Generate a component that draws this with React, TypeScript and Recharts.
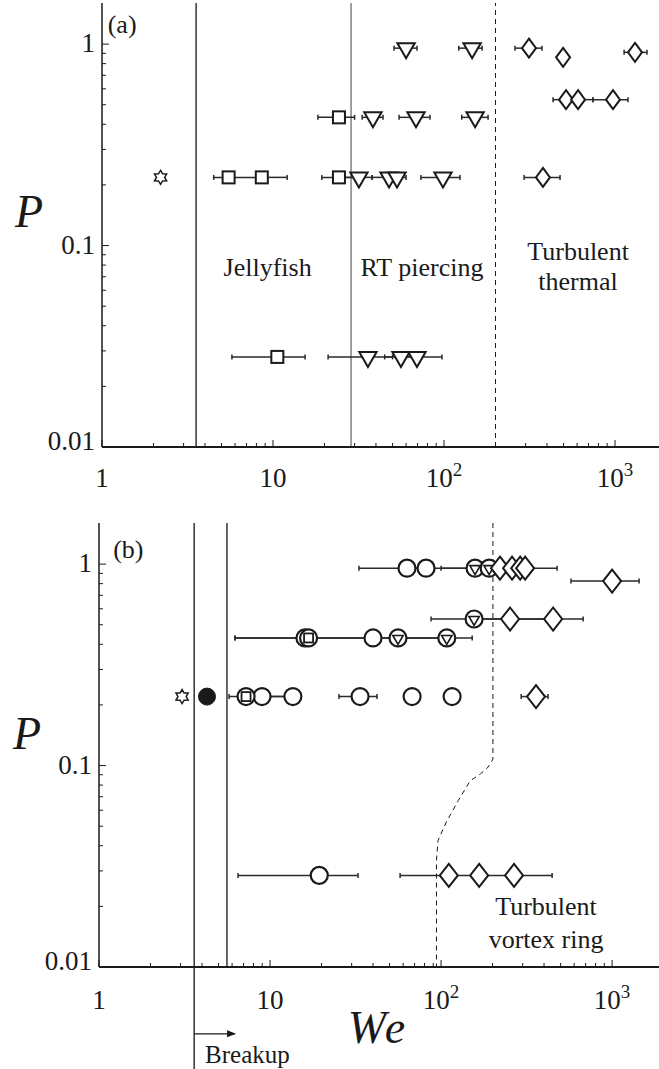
import React from 'react';
import {
  ComposedChart,
  Scatter,
  XAxis,
  YAxis,
  ErrorBar,
  ReferenceLine,
  ReferenceDot,
} from 'recharts';

type Pt = { we: number; p: number; lo?: number; hi?: number };

const FONT = '"Liberation Serif", "DejaVu Serif", serif';
const INK = '#1a1a1a';

// axis ticks (log decades with minor ticks)
const xMajor = [1, 10, 100, 1000];
const xTickLabels = [['1', ''], ['10', ''], ['10', '2'], ['10', '3']];
const yMajor = [0.01, 0.1, 1];
const yTickLabels = ['0.01', '0.1', '1'];
const mantissas = [1, 2, 3, 4, 5, 6, 7, 8, 9];
const xTicks = xMajor.flatMap((d) => mantissas.map((m) => +(m * d).toPrecision(3))).filter((v) => v <= 1000);
const yTicks = [0.01, 0.1].flatMap((d) => mantissas.map((m) => +(m * d).toPrecision(3))).concat([1]);

const yDomain = [0.01, 1.6];
const aWeMax = 1808;
const bWeMax = 1880;

// ---- panel (a) ----
const aStar: Pt[] = [{ we: 2.2, p: 0.218 }];
const aSquares: Pt[] = [
  { we: 24.3, p: 0.433, lo: 18.3, hi: 30 },
  { we: 5.5, p: 0.218, lo: 4.5, hi: 8.6 },
  { we: 8.6, p: 0.218, lo: 8.6, hi: 12.1 },
  { we: 24.3, p: 0.218, lo: 19.3, hi: 30 },
  { we: 10.6, p: 0.028, lo: 5.75, hi: 15.4 },
];
const aTriangles: Pt[] = [
  { we: 60, p: 0.955, lo: 51, hi: 69.5 },
  { we: 146, p: 0.955, lo: 122, hi: 167 },
  { we: 38.4, p: 0.433, lo: 33.2, hi: 44 },
  { we: 68.6, p: 0.433, lo: 54.6, hi: 82.8 },
  { we: 152, p: 0.433, lo: 127, hi: 181 },
  { we: 31.8, p: 0.218, lo: 26, hi: 38 },
  { we: 47.7, p: 0.218, lo: 38, hi: 55 },
  { we: 53.1, p: 0.218, lo: 47, hi: 60 },
  { we: 98.6, p: 0.218, lo: 73.3, hi: 124 },
  { we: 35.9, p: 0.028, lo: 21, hi: 50 },
  { we: 56, p: 0.028, lo: 45, hi: 70 },
  { we: 69.5, p: 0.028, lo: 56, hi: 97.3 },
];
const aDiamonds: Pt[] = [
  { we: 314, p: 0.955, lo: 260, hi: 374 },
  { we: 497, p: 0.86 },
  { we: 1309, p: 0.91, lo: 1130, hi: 1538 },
  { we: 517, p: 0.53, lo: 434, hi: 600 },
  { we: 608, p: 0.53, lo: 517, hi: 743 },
  { we: 973, p: 0.53, lo: 743, hi: 1191 },
  { we: 379, p: 0.218, lo: 294, hi: 477 },
];
const aLines = { jellyfish: 3.55, piercing: 28.6, thermal: 200 };

// ---- panel (b) ----
const bStar: Pt[] = [{ we: 3.06, p: 0.22 }];
const bFilled: Pt[] = [{ we: 4.28, p: 0.22 }];
const bCircles: Pt[] = [
  { we: 63.2, p: 0.955, lo: 33.1, hi: 82 },
  { we: 81.7, p: 0.955, lo: 63, hi: 158 },
  { we: 16, p: 0.43, lo: 6.24, hi: 17 },
  { we: 40, p: 0.43, lo: 17, hi: 56 },
  { we: 8.98, p: 0.22, lo: 7.24, hi: 13.6 },
  { we: 13.6, p: 0.22, lo: 9, hi: 15 },
  { we: 33.6, p: 0.22, lo: 25.3, hi: 42.2 },
  { we: 67.7, p: 0.22 },
  { we: 116, p: 0.22 },
  { we: 19.4, p: 0.0285, lo: 6.5, hi: 32.7 },
];
const bCircleSquares: Pt[] = [
  { we: 16.8, p: 0.43, lo: 6.24, hi: 40 },
  { we: 7.24, p: 0.22, lo: 5.76, hi: 9 },
];
const bCircleTriangles: Pt[] = [
  { we: 158, p: 0.955, lo: 100, hi: 200 },
  { we: 191, p: 0.955 },
  { we: 156, p: 0.534, lo: 87.4, hi: 253 },
  { we: 56, p: 0.43, lo: 40, hi: 108 },
  { we: 108, p: 0.43, lo: 56, hi: 152 },
];
const bDiamonds: Pt[] = [
  { we: 221, p: 0.955 },
  { we: 260, p: 0.955 },
  { we: 290, p: 0.955 },
  { we: 310, p: 0.955, lo: 250, hi: 477 },
  { we: 1000, p: 0.824, lo: 575, hi: 1438 },
  { we: 253, p: 0.534, lo: 156, hi: 452 },
  { we: 452, p: 0.534, lo: 253, hi: 677 },
  { we: 359, p: 0.22, lo: 294, hi: 422 },
  { we: 111, p: 0.0285, lo: 57.6, hi: 167 },
  { we: 167, p: 0.0285 },
  { we: 267, p: 0.0285, lo: 167, hi: 446 },
];
const bBoundaryWe = [201, 201, 197, 186, 170, 148, 126, 108, 96, 94, 94];
const bBoundaryP = [1.6, 0.108, 0.104, 0.097, 0.091, 0.084, 0.067, 0.053, 0.0425, 0.034, 0.01];
const bBoundary = bBoundaryWe.map((we, i) => ({ we, p: bBoundaryP[i] }));
const bLines = { breakup: 3.6, second: 5.6 };

const withErr = (pts: Pt[]) => pts.filter((d) => d.lo !== undefined);
const errRange = (d: Pt) => [d.we - (d.lo ?? d.we), (d.hi ?? d.we) - d.we];

// ---- marker shapes ----
const Empty = () => <g />;

const Star = ({ cx, cy }: any) => {
  const pts: string[] = [];
  for (let k = 0; k < 12; k++) {
    const r = k % 2 === 0 ? 7 : 4.1;
    const a = ((-90 + 30 * k) * Math.PI) / 180;
    pts.push(`${cx + r * Math.cos(a)},${cy + r * Math.sin(a)}`);
  }
  return <polygon points={pts.join(' ')} fill="#fff" stroke={INK} strokeWidth={1.5} />;
};
const Square = ({ cx, cy }: any) => (
  <rect x={cx - 6} y={cy - 6} width={12} height={12} fill="#fff" stroke={INK} strokeWidth={2} />
);
const triPoints = (cx: number, cy: number, r: number) =>
  `${cx - r * 0.866},${cy - r / 2} ${cx + r * 0.866},${cy - r / 2} ${cx},${cy + r}`;
const Triangle = ({ cx, cy }: any) => (
  <polygon points={triPoints(cx, cy, 10)} fill="#fff" stroke={INK} strokeWidth={2} />
);
const diamond = (w: number, h: number) => ({ cx, cy }: any) => (
  <polygon
    points={`${cx},${cy - h / 2} ${cx + w / 2},${cy} ${cx},${cy + h / 2} ${cx - w / 2},${cy}`}
    fill="#fff"
    stroke={INK}
    strokeWidth={2}
  />
);
const DiamondA = diamond(14, 19);
const DiamondB = diamond(18, 23);
const Circle = ({ cx, cy }: any) => <circle cx={cx} cy={cy} r={8.5} fill="#fff" stroke={INK} strokeWidth={2.2} />;
const FilledCircle = ({ cx, cy }: any) => <circle cx={cx} cy={cy} r={8.5} fill={INK} stroke={INK} strokeWidth={1} />;
const CircleSquare = ({ cx, cy }: any) => (
  <g>
    <circle cx={cx} cy={cy} r={8.5} fill="#fff" stroke={INK} strokeWidth={2.2} />
    <rect x={cx - 4.5} y={cy - 4.5} width={9} height={9} fill="#fff" stroke={INK} strokeWidth={1.8} />
  </g>
);
const CircleTriangle = ({ cx, cy }: any) => (
  <g>
    <circle cx={cx} cy={cy} r={8.5} fill="#fff" stroke={INK} strokeWidth={2.2} />
    <polygon points={triPoints(cx, cy + 0.5, 6)} fill="#fff" stroke={INK} strokeWidth={1.6} />
  </g>
);

// ---- ticks ----
const BottomTick = ({ x, y, payload, dyLabel }: any) => {
  const idx = xMajor.indexOf(payload.value);
  const major = idx >= 0;
  return (
    <g>
      <line x1={x} x2={x} y1={y} y2={y - (major ? 7 : 4)} stroke={INK} strokeWidth={1} />
      {major && (
        <text x={x} y={y + dyLabel} textAnchor="middle" fontFamily={FONT} fontSize={27} fill={INK}>
          {xTickLabels[idx][0]}
          {xTickLabels[idx][1] && (
            <tspan dy={-11} fontSize={19}>
              {xTickLabels[idx][1]}
            </tspan>
          )}
        </text>
      )}
    </g>
  );
};
const TopTick = ({ x, y, payload }: any) => {
  const major = xMajor.includes(payload.value);
  return <line x1={x} x2={x} y1={y} y2={y + (major ? 7 : 4)} stroke={INK} strokeWidth={1} />;
};
const LeftTick = ({ x, y, payload }: any) => {
  const idx = yMajor.indexOf(payload.value);
  const major = idx >= 0;
  return (
    <g>
      <line x1={x} x2={x + (major ? 7 : 4)} y1={y} y2={y} stroke={INK} strokeWidth={1} />
      {major && (
        <text x={x - 7} y={y + (idx === 0 ? 3 : 8)} textAnchor="end" fontFamily={FONT} fontSize={27} fill={INK}>
          {yTickLabels[idx]}
        </text>
      )}
    </g>
  );
};

const note = (text: string, anchor = 'middle', size = 26, italic = false) => (props: any) => (
  <text
    x={props.cx}
    y={props.cy}
    textAnchor={anchor}
    fontFamily={FONT}
    fontSize={size}
    fontStyle={italic ? 'italic' : 'normal'}
    letterSpacing={italic && size > 30 ? 3 : 0}
    fill={INK}
  >
    {text}
  </text>
);
const ArrowHead = ({ cx, cy }: any) => (
  <polygon points={`${cx},${cy} ${cx - 9},${cy - 3.5} ${cx - 9},${cy + 3.5}`} fill={INK} />
);

const axes = (weMax: number, yWidth: number, xHeight: number, dyLabel: number) => [
  <XAxis
    key="xb"
    dataKey="we"
    type="number"
    scale="log"
    domain={[1, weMax]}
    allowDataOverflow
    ticks={xTicks}
    interval={0}
    height={xHeight}
    tickSize={0}
    tickMargin={0}
    tickLine={false}
    axisLine={{ stroke: INK, strokeWidth: 2 }}
    tick={(p: any) => <BottomTick {...p} dyLabel={dyLabel} />}
  />,
  <XAxis
    key="xt"
    xAxisId="top"
    orientation="top"
    dataKey="we"
    type="number"
    scale="log"
    domain={[1, weMax]}
    allowDataOverflow
    ticks={xTicks}
    interval={0}
    height={0}
    tickSize={0}
    tickMargin={0}
    tickLine={false}
    axisLine={{ stroke: INK, strokeWidth: 1.5 }}
    tick={TopTick}
  />,
  <YAxis
    key="y"
    dataKey="p"
    type="number"
    scale="log"
    domain={yDomain}
    allowDataOverflow
    ticks={yTicks}
    interval={0}
    width={yWidth}
    tickSize={0}
    tickMargin={0}
    tickLine={false}
    axisLine={{ stroke: INK, strokeWidth: 1.5 }}
    tick={LeftTick}
  />,
];

const errSeries = (pts: Pt[]) => (
  <Scatter data={withErr(pts)} shape={Empty} isAnimationActive={false}>
    <ErrorBar dataKey={errRange} direction="x" width={2.5} stroke="#2a2a2a" strokeWidth={1.5} />
  </Scatter>
);

const PanelA = () => (
  <ComposedChart width={659} height={520} margin={{ top: 3, right: 0, bottom: 0, left: 0 }}>
    {axes(aWeMax, 102, 73, 40)}
    <ReferenceLine x={aLines.jellyfish} stroke="#000" strokeWidth={1.2} />
    <ReferenceLine x={aLines.piercing} stroke="#777" strokeWidth={1.4} />
    <ReferenceLine x={aLines.thermal} stroke={INK} strokeWidth={1} strokeDasharray="5 4" />
    {errSeries([...aSquares, ...aTriangles, ...aDiamonds])}
    <Scatter data={aStar} shape={Star} isAnimationActive={false} />
    <Scatter data={aSquares} shape={Square} isAnimationActive={false} />
    <Scatter data={aTriangles} shape={Triangle} isAnimationActive={false} />
    <Scatter data={aDiamonds} shape={DiamondA} isAnimationActive={false} />
    <ReferenceDot x={1.08} y={1.13} r={0} ifOverflow="visible" shape={note('(a)', 'start')} />
    <ReferenceDot x={9.3} y={0.071} r={0} ifOverflow="visible" shape={note('Jellyfish')} />
    <ReferenceDot x={74.4} y={0.071} r={0} ifOverflow="visible" shape={note('RT piercing')} />
    <ReferenceDot x={608} y={0.085} r={0} ifOverflow="visible" shape={note('Turbulent')} />
    <ReferenceDot x={608} y={0.06} r={0} ifOverflow="visible" shape={note('thermal')} />
    <ReferenceDot x={0.31} y={0.124} r={0} ifOverflow="visible" shape={note('P', 'start', 46, true)} />
  </ComposedChart>
);

const PanelB = () => (
  <ComposedChart width={659} height={549} margin={{ top: 3, right: 0, bottom: 0, left: 0 }}>
    {axes(bWeMax, 99, 102, 42)}
    <ReferenceLine
      segment={[{ x: bLines.breakup, y: 1.6 }, { x: bLines.breakup, y: 0.003 }]}
      ifOverflow="visible"
      stroke="#000"
      strokeWidth={1.2}
    />
    <ReferenceLine x={bLines.second} stroke="#000" strokeWidth={1.2} />
    <Scatter
      data={bBoundary}
      shape={Empty}
      line={{ stroke: INK, strokeWidth: 1, strokeDasharray: '5 4' }}
      lineType="joint"
      isAnimationActive={false}
    />
    {errSeries([...bCircles, ...bCircleSquares, ...bCircleTriangles, ...bDiamonds])}
    <Scatter data={bStar} shape={Star} isAnimationActive={false} />
    <Scatter data={bFilled} shape={FilledCircle} isAnimationActive={false} />
    <Scatter data={bCircles} shape={Circle} isAnimationActive={false} />
    <Scatter data={bCircleSquares} shape={CircleSquare} isAnimationActive={false} />
    <Scatter data={bCircleTriangles} shape={CircleTriangle} isAnimationActive={false} />
    <Scatter data={bDiamonds} shape={DiamondB} isAnimationActive={false} />
    <ReferenceDot x={1.21} y={1.07} r={0} ifOverflow="visible" shape={note('(b)', 'start')} />
    <ReferenceDot x={411} y={0.0181} r={0} ifOverflow="visible" shape={note('Turbulent')} />
    <ReferenceDot x={411} y={0.0124} r={0} ifOverflow="visible" shape={note('vortex ring')} />
    <ReferenceDot x={0.314} y={0.121} r={0} ifOverflow="visible" shape={note('P', 'start', 46, true)} />
    <ReferenceDot x={42.8} y={0.0042} r={0} ifOverflow="visible" shape={note('We', 'middle', 46, true)} />
    <ReferenceLine
      segment={[{ x: bLines.breakup, y: 0.00466 }, { x: 6.2, y: 0.00466 }]}
      ifOverflow="visible"
      stroke={INK}
      strokeWidth={1.2}
    />
    <ReferenceDot x={6.33} y={0.00466} r={0} ifOverflow="visible" shape={ArrowHead} />
    <ReferenceDot x={4.17} y={0.00335} r={0} ifOverflow="visible" shape={note('Breakup', 'start', 25)} />
  </ComposedChart>
);

export default function App() {
  return (
    <div style={{ position: 'absolute', left: 0, top: 0, width: 659, height: 1069, background: '#fff' }}>
      <div style={{ position: 'absolute', left: 0, top: 0 }}>
        <PanelA />
      </div>
      <div style={{ position: 'absolute', left: 0, top: 520 }}>
        <PanelB />
      </div>
    </div>
  );
}
